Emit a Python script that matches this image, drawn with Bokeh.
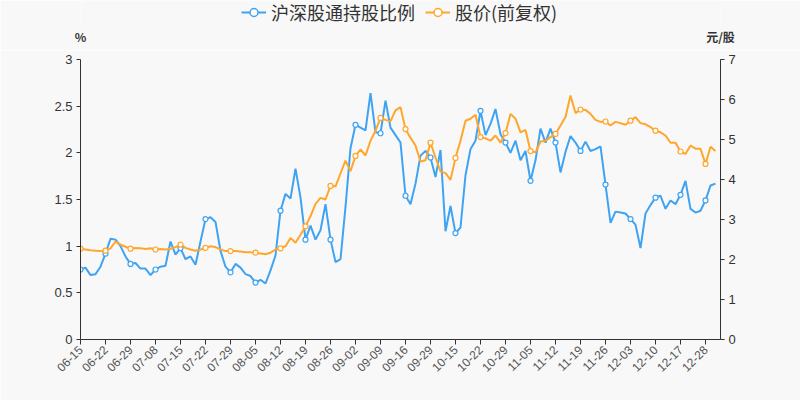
from bokeh.plotting import figure
from bokeh.layouts import column
from bokeh.models import (Range1d, LinearAxis, FixedTicker, SingleIntervalTicker,
                          NumeralTickFormatter, Legend, LegendItem, ColumnDataSource)
from bokeh.embed import file_html
from bokeh.resources import INLINE
import math

dates = [
    "06-15", "06-16", "06-17", "06-18", "06-19",
    "06-22", "06-23", "06-24", "06-25", "06-26",
    "06-29", "06-30", "07-01", "07-02", "07-03",
    "07-08", "07-09", "07-10", "07-13", "07-14",
    "07-15", "07-16", "07-17", "07-20", "07-21",
    "07-22", "07-23", "07-24", "07-27", "07-28",
    "07-29", "07-30", "07-31", "08-03", "08-04",
    "08-05", "08-06", "08-07", "08-10", "08-11",
    "08-12", "08-13", "08-14", "08-17", "08-18",
    "08-19", "08-20", "08-21", "08-24", "08-25",
    "08-26", "08-27", "08-28", "08-31", "09-01",
    "09-02", "09-03", "09-04", "09-07", "09-08",
    "09-09", "09-10", "09-11", "09-14", "09-15",
    "09-16", "09-17", "09-18", "09-21", "09-22",
    "09-29", "09-30", "10-09", "10-12", "10-13",
    "10-15", "10-16", "10-19", "10-20", "10-21",
    "10-22", "10-23", "10-26", "10-27", "10-28",
    "10-29", "10-30", "11-02", "11-03", "11-04",
    "11-05", "11-06", "11-09", "11-10", "11-11",
    "11-12", "11-13", "11-16", "11-17", "11-18",
    "11-19", "11-20", "11-23", "11-24", "11-25",
    "11-26", "11-27", "11-30", "12-01", "12-02",
    "12-03", "12-04", "12-07", "12-08", "12-09",
    "12-10", "12-11", "12-14", "12-15", "12-16",
    "12-17", "12-18", "12-21", "12-22", "12-23",
    "12-28", "12-29", "12-30", "12-31",
]

# 沪深股通持股比例 (%)
holding_pct = [
    0.75, 0.77, 0.69, 0.70, 0.78, 0.92, 1.08, 1.07, 1.00, 0.89,
    0.81, 0.82, 0.76, 0.76, 0.69, 0.75, 0.78, 0.79, 1.05, 0.91,
    0.98, 0.86, 0.89, 0.80, 1.05, 1.29, 1.31, 1.26, 0.95, 0.78,
    0.72, 0.81, 0.77, 0.70, 0.68, 0.61, 0.64, 0.60, 0.74, 0.90,
    1.38, 1.56, 1.51, 1.83, 1.52, 1.07, 1.22, 1.07, 1.17, 1.45,
    1.07, 0.83, 0.86, 1.42, 2.05, 2.30, 2.27, 2.24, 2.64, 2.22,
    2.21, 2.56, 2.27, 2.19, 2.11, 1.54, 1.45, 1.67, 1.97, 2.02,
    1.95, 1.74, 2.03, 1.16, 1.43, 1.14, 1.20, 1.76, 2.04, 2.13,
    2.45, 2.19, 2.31, 2.47, 2.20, 2.11, 2.00, 2.13, 1.92, 2.02,
    1.70, 1.92, 2.26, 2.11, 2.26, 2.11, 1.79, 2.01, 2.18, 2.11,
    2.02, 2.12, 2.02, 2.04, 2.07, 1.66, 1.25, 1.37, 1.36, 1.35,
    1.29, 1.23, 0.98, 1.35, 1.44, 1.52, 1.54, 1.40, 1.49, 1.45,
    1.55, 1.70, 1.40, 1.36, 1.38, 1.49, 1.65, 1.67,
]

# 股价(前复权) (元/股)
price = [
    2.27, 2.25, 2.23, 2.22, 2.21, 2.22, 2.28, 2.45, 2.37, 2.32,
    2.27, 2.29, 2.28, 2.26, 2.28, 2.25, 2.26, 2.25, 2.27, 2.31,
    2.37, 2.29, 2.25, 2.22, 2.25, 2.29, 2.33, 2.31, 2.25, 2.21,
    2.21, 2.21, 2.20, 2.18, 2.18, 2.17, 2.15, 2.13, 2.17, 2.25,
    2.28, 2.33, 2.54, 2.42, 2.62, 2.83, 3.08, 3.39, 3.54, 3.50,
    3.84, 3.83, 4.15, 4.47, 4.21, 4.59, 4.75, 4.60, 4.97, 5.22,
    5.54, 5.49, 5.46, 5.73, 5.81, 5.26, 5.04, 4.85, 4.45, 4.48,
    4.92, 4.55, 4.20, 4.16, 3.99, 4.54, 4.97, 5.47, 5.52, 5.62,
    5.06, 5.03, 4.97, 5.10, 4.92, 5.16, 5.64, 5.52, 5.18, 5.24,
    4.71, 4.68, 4.95, 4.97, 5.06, 5.14, 5.35, 5.56, 6.10, 5.66,
    5.75, 5.74, 5.64, 5.49, 5.44, 5.45, 5.35, 5.44, 5.41, 5.37,
    5.47, 5.56, 5.41, 5.38, 5.31, 5.22, 5.18, 5.10, 4.92, 4.92,
    4.70, 4.64, 4.85, 4.77, 4.77, 4.39, 4.82, 4.71,
]

series_names = ["沪深股通持股比例", "股价(前复权)"]
unit_left = "%"
unit_right = "元/股"
left_ticks_max = 3
right_ticks_max = 7
label_step = 5

BLUE = "#3fa3f3"
ORANGE = "#ffa62b"
BG = "#f8f8f8"
AXIS = "#333333"
CJK = "Noto Sans CJK SC"
NUM = "Liberation Sans"

HEADER_H = 50
MAIN_TOP = 9  # main frame top = HEADER_H + MAIN_TOP = 59

# ---------- header: legend + unit names ----------
hdr = figure(width=800, height=HEADER_H, output_backend="svg", toolbar_location=None,
             x_range=Range1d(0, 1), y_range=Range1d(0, 1), y_axis_type=None,
             min_border_left=80, min_border_right=80, min_border_top=0, min_border_bottom=25,
             background_fill_color=BG, border_fill_color=BG, outline_line_color=None)
hdr.xgrid.visible = False
hdr.ygrid.visible = False
ua = hdr.xaxis[0]
ua.ticker = FixedTicker(ticks=[0, 1])
ua.major_label_overrides = {0: unit_left, 1: unit_right}
ua.axis_line_color = None
ua.major_tick_line_color = None
ua.minor_tick_line_color = None
ua.major_tick_out = 0
ua.major_tick_in = 0
ua.major_label_standoff = 2
ua.major_label_text_font = CJK
ua.major_label_text_font_size = "12px"
ua.major_label_text_font_style = "bold"
ua.major_label_text_color = "#333333"

off = dict(x=[-1000], y=[-1000])
lb = hdr.line(x="x", y="y", source=ColumnDataSource(off), line_color=BLUE, line_width=2)
sb = hdr.scatter(x="x", y="y", source=ColumnDataSource(off), size=11, fill_color="white",
                 line_color=BLUE, line_width=1.5)
lo = hdr.line(x="x", y="y", source=ColumnDataSource(off), line_color=ORANGE, line_width=2)
so = hdr.scatter(x="x", y="y", source=ColumnDataSource(off), size=11, fill_color="white",
                 line_color=ORANGE, line_width=1.5)

legend = Legend(items=[LegendItem(label=series_names[0], renderers=[lb, sb]),
                       LegendItem(label=series_names[1], renderers=[lo, so])],
                orientation="horizontal", location=(161, 0),
                padding=0, margin=0, spacing=10, glyph_width=25, glyph_height=20,
                label_standoff=5, label_height=20,
                label_text_font=CJK, label_text_font_size="18px", label_text_color="#333333",
                background_fill_alpha=0, border_line_color=None)
hdr.add_layout(legend, "center")

# ---------- main chart ----------
n = len(dates)
xs = list(range(len(holding_pct)))
mk = list(range(0, len(holding_pct), label_step))

p = figure(width=800, height=400 - HEADER_H, output_backend="svg", toolbar_location=None,
           x_range=Range1d(0, n - 1), y_range=Range1d(0, left_ticks_max),
           min_border_left=80, min_border_right=80, min_border_top=MAIN_TOP,
           min_border_bottom=61,
           background_fill_color=BG, border_fill_color=BG, outline_line_color=None)
p.extra_y_ranges = {"price": Range1d(0, right_ticks_max)}
p.xgrid.visible = False
p.ygrid.visible = False

xa = p.xaxis[0]
xa.ticker = FixedTicker(ticks=list(range(0, n, label_step)))
xa.major_label_overrides = {i: dates[i] for i in range(0, n, label_step)}
xa.major_label_orientation = math.pi / 4
xa.major_label_text_font = NUM
xa.major_label_text_font_size = "12px"
xa.major_label_text_color = "#555555"
xa.axis_line_color = AXIS
xa.major_tick_line_color = AXIS
xa.major_tick_out = 5
xa.major_tick_in = 0
xa.minor_tick_line_color = None
xa.major_label_standoff = 3

ya = p.yaxis[0]
ya.ticker = SingleIntervalTicker(interval=0.5)
ya.formatter = NumeralTickFormatter(format="0.[0]")
ya.major_label_text_font = NUM
ya.major_label_text_font_size = "13px"
ya.major_label_text_color = "#333333"
ya.axis_line_color = AXIS
ya.major_tick_line_color = AXIS
ya.major_tick_out = 4
ya.major_tick_in = 0
ya.minor_tick_line_color = None
ya.major_label_standoff = 4

ra = LinearAxis(y_range_name="price", ticker=SingleIntervalTicker(interval=1),
                formatter=NumeralTickFormatter(format="0"))
ra.major_label_text_font = NUM
ra.major_label_text_font_size = "13px"
ra.major_label_text_color = "#333333"
ra.axis_line_color = AXIS
ra.major_tick_line_color = AXIS
ra.major_tick_out = 4
ra.major_tick_in = 0
ra.minor_tick_line_color = None
ra.major_label_standoff = 4
p.add_layout(ra, "right")

b_src = ColumnDataSource(dict(x=xs, y=holding_pct))
o_src = ColumnDataSource(dict(x=xs, y=price))
bm_src = ColumnDataSource(dict(x=mk, y=[holding_pct[i] for i in mk]))
om_src = ColumnDataSource(dict(x=mk, y=[price[i] for i in mk]))

p.line("x", "y", source=b_src, line_color=BLUE, line_width=2)
p.line("x", "y", source=o_src, line_color=ORANGE, line_width=2, y_range_name="price")
p.scatter("x", "y", source=bm_src, size=5, fill_color="white", line_color=BLUE, line_width=1.2)
p.scatter("x", "y", source=om_src, size=5, fill_color="white", line_color=ORANGE, line_width=1.2,
          y_range_name="price")

layout = column(hdr, p, spacing=0)
open("out.html", "w").write(file_html(layout, INLINE))
